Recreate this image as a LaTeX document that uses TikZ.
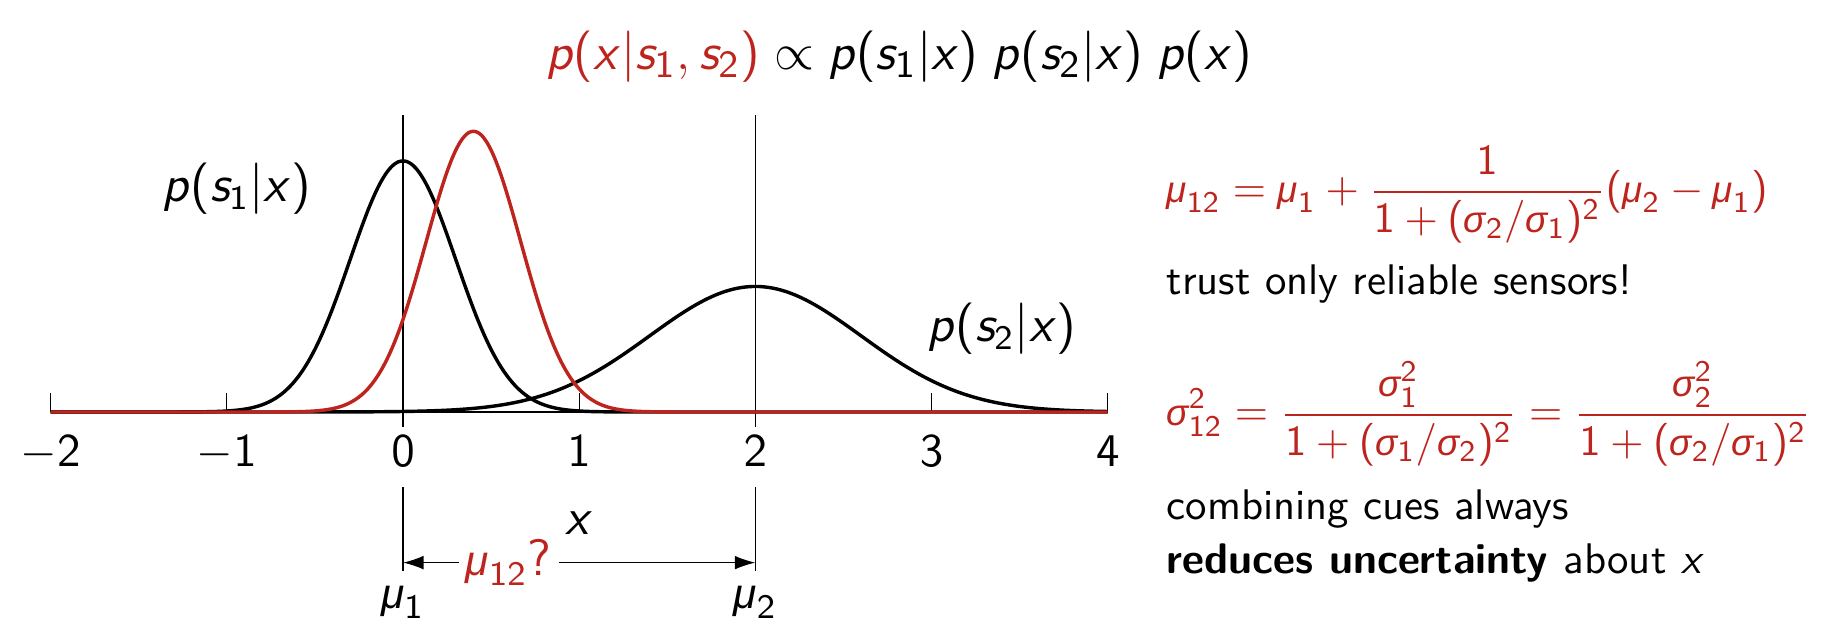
\documentclass[tikz,border=0pt]{standalone}
\usepackage{amsmath}
\usepackage[no-math]{fontspec}
\usepackage{tikz}
\usetikzlibrary{arrows.meta,
                positioning}

% sans serif maths
\SetSymbolFont{operators}{normal}{OT1}{cmss}{m}{n}
\DeclareSymbolFont{sflatin}{OT1}{cmss}{m}{sl}
\DeclareMathSymbol{p}{\mathalpha}{sflatin}{`p}
\DeclareMathSymbol{s}{\mathalpha}{sflatin}{`s}
\DeclareMathSymbol{x}{\mathalpha}{sflatin}{`x}
\newfontfamily\greeksf{Liberation Sans}[Scale=0.86]
\renewcommand{\mu}{\text{\greeksf\itshape μ}}
\renewcommand{\sigma}{\text{\greeksf\itshape σ}}

\definecolor{fusered}{RGB}{190,36,30}

\begin{document}
\begin{tikzpicture}[
x=1.447cm, y=1.447cm,
execute at begin picture={\sffamily},
lbl/.style  = {font=\fontsize{11.5}{14}\selectfont},
tick/.style = {font=\fontsize{11}{13}\selectfont, anchor=base, inner sep=2pt, text depth=0.25em},
note/.style = {font=\fontsize{10}{12.4}\selectfont, anchor=base west, inner sep=0pt},
curve/.style = {line width=0.8pt, domain=-2:4, samples=241, smooth},
guide/.style = {line width=0.3pt}
                        ]
\useasboundingbox (-2.287,-1.226) rectangle (8.167,2.338);

% axis and ticks
\draw[guide] (-2,0) -- (4,0);
\foreach \t in {-2,-1,1,3,4}
    \draw[guide] (\t,0) -- (\t,0.108);
\foreach \t in {-2,...,4}
    \node[tick] (t\t) at (\t,-0.312) {$\t$};

% means
\coordinate (top1) at (0,1.686);
\coordinate (top2) at (2,1.686);
\node[lbl, anchor=base] (mu1) at (0,-1.113) {$\mu_1$};
\node[lbl, anchor=base] (mu2) at (2,-1.113) {$\mu_2$};
\draw[guide] (top1) -- (t0.north)
             (t0.south) -- (mu1.north)
             (top2) -- (t2.north)
             (t2.south) -- (mu2.north);

% likelihoods and posterior
\draw[curve] plot (\x,{1.4247*exp(-(\x)*(\x)/0.18)});
\draw[curve] plot (\x,{0.7123*exp(-(\x-2)*(\x-2)/0.72)});
\draw[curve, fusered] plot (\x,{1.593*exp(-(\x-0.4)*(\x-0.4)/0.144)});

\node[lbl] (like1) at (-0.942,1.266) {$p(s_1|x)$};
\node[lbl] (like2) at (3.40,0.471) {$p(s_2|x)$};
\node[font=\fontsize{12.5}{15}\selectfont] (post) at (2.815,2.015)
    {$\textcolor{fusered}{p(x|s_1,s_2)} \propto p(s_1|x)\;p(s_2|x)\;p(x)$};

% estimate between the means
\node[lbl] (xlab) at (1,-0.63) {$x$};
\node[lbl, text=fusered, inner sep=1.5pt] (mu12) at (0.6,-0.855) {$\mu_{12}?$};
\draw[guide, -{Latex[length=4.8pt,width=3.2pt]}] (mu12.west) -- (mu12.west -| mu1);
\draw[guide, -{Latex[length=4.8pt,width=3.2pt]}] (mu12.east) -- (mu12.east -| mu2);

% fusion rules
\node[note, text=fusered] (mean) at (4.33,1.186)
    {$\displaystyle \mu_{12} = \mu_1 + \frac{1}{1+(\sigma_2/\sigma_1)^2}(\mu_2-\mu_1)$};
\node[note] (trust) at (4.33,0.664) {trust only reliable sensors!};
\node[note, text=fusered] (var) at (4.33,-0.078)
    {$\displaystyle \sigma_{12}^2 = \frac{\sigma_1^2}{1+(\sigma_1/\sigma_2)^2} = \frac{\sigma_2^2}{1+(\sigma_2/\sigma_1)^2}$};
\node[note] (comb) at (4.33,-0.613) {combining cues always};
\node[note] (reduce) [below=0.301 of comb.base west, anchor=base west]
    {\bfseries reduces uncertainty \mdseries about $x$};
\end{tikzpicture}
\end{document}
